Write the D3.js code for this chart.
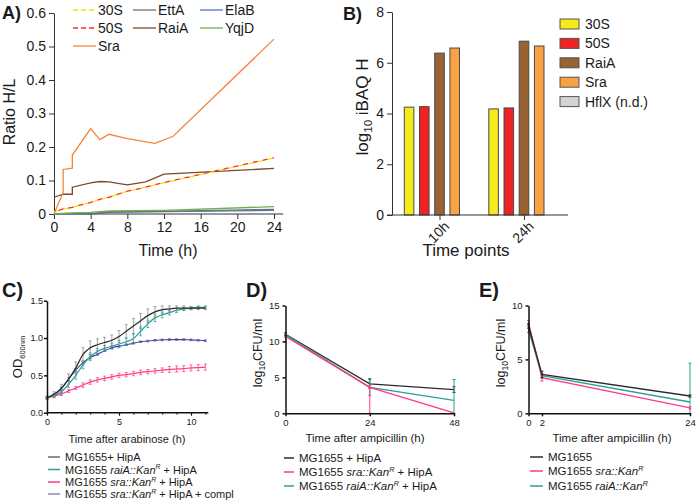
<!DOCTYPE html>
<html>
<head>
<meta charset="utf-8">
<script src="https://cdn.jsdelivr.net/npm/d3@7"></script>
<style>
  body { margin: 0; background: #fff; }
  svg { display: block; }
  text { font-family: "Liberation Sans", Arial, Helvetica, sans-serif; fill: #1a1a1a; }
</style>
</head>
<body>
<svg id="fig" width="697" height="501"></svg>
<script>
// ---------- data: panel A (ratio H/L over time) ----------
const namesA = ['30S', '50S', 'Sra', 'EttA', 'RaiA', 'ElaB', 'YqjD'];
const colorsA = ['#f2e600', '#ff2a2a', '#f6843a', '#6e6e6e', '#7a4a2c', '#4f78c8', '#6ab04c'];
const dashedA = [true, true, false, false, false, false, false];
const s30A = [[0, 0.006], [1, 0.014], [2, 0.02], [4, 0.035], [5, 0.043], [6, 0.05], [8, 0.068], [10, 0.08], [12, 0.093], [24, 0.167]];
const s50A = [[0, 0.007], [1, 0.015], [2, 0.02], [4, 0.035], [5, 0.044], [6, 0.05], [8, 0.068], [10, 0.08], [12, 0.094], [24, 0.168]];
const sraA = [[0, 0], [1, 0.065], [1, 0.133], [2, 0.137], [2, 0.176], [4, 0.255], [5, 0.222], [6, 0.238], [8, 0.225], [11, 0.211], [13, 0.232], [24, 0.522]];
const ettA = [[0, 0], [2, 0.002], [4, 0.001], [6, 0.006], [8, 0.007], [12, 0.008], [24, 0.014]];
const raiA = [[0, 0.05], [1, 0.059], [2, 0.059], [2, 0.08], [4, 0.093], [5, 0.097], [6, 0.096], [8, 0.087], [10, 0.096], [12, 0.119], [24, 0.136]];
const elaA = [[0, 0], [4, 0], [6, 0.005], [12, 0.007], [24, 0.011]];
const yqjA = [[0, 0], [2, 0.003], [4, 0.005], [6, 0.009], [12, 0.011], [24, 0.022]];
const seriesA = [s30A, s50A, sraA, ettA, raiA, elaA, yqjA];
const xTicksA = [0, 4, 8, 12, 16, 20, 24];
const yTicksA = [0, 0.1, 0.2, 0.3, 0.4, 0.5, 0.6];

// ---------- data: panel B (log10 iBAQ H) ----------
const groupsB = ['10h', '24h'];
const namesB = ['30S', '50S', 'RaiA', 'Sra', 'HflX (n.d.)'];
const colorsB = ['#f4ea1c', '#ee2424', '#9a6132', '#f9a243', '#d4d4d4'];
const vals10hB = [4.25, 4.27, 6.38, 6.58, null];
const vals24hB = [4.18, 4.22, 6.85, 6.66, null];
const yTicksB = [0, 2, 4, 6, 8];

// ---------- data: panel C (growth after arabinose) ----------
const tC = [0, 0.5, 1, 1.5, 2, 2.5, 3, 3.5, 4, 4.5, 5, 5.5, 6, 6.5, 7, 7.5, 8, 8.5, 9, 9.5, 10, 10.5, 11];
const wtC = [0.20, 0.25, 0.33, 0.45, 0.60, 0.78, 0.87, 0.91, 0.94, 0.97, 1.02, 1.09, 1.16, 1.23, 1.30, 1.35, 1.38, 1.39, 1.40, 1.40, 1.40, 1.40, 1.40];
const raiC = [0.20, 0.23, 0.28, 0.38, 0.50, 0.64, 0.75, 0.82, 0.86, 0.89, 0.92, 0.95, 0.99, 1.09, 1.19, 1.27, 1.31, 1.34, 1.37, 1.39, 1.40, 1.41, 1.41];
const sraC = [0.20, 0.22, 0.25, 0.29, 0.33, 0.37, 0.41, 0.44, 0.46, 0.48, 0.50, 0.51, 0.525, 0.54, 0.55, 0.56, 0.57, 0.58, 0.585, 0.59, 0.60, 0.605, 0.61];
const complC = [0.20, 0.24, 0.32, 0.45, 0.57, 0.67, 0.74, 0.78, 0.83, 0.87, 0.89, 0.91, 0.93, 0.95, 0.96, 0.97, 0.975, 0.98, 0.98, 0.98, 0.975, 0.97, 0.965];
const wtErrC = [0.02, 0.03, 0.05, 0.07, 0.08, 0.09, 0.09, 0.08, 0.07, 0.07, 0.08, 0.09, 0.10, 0.10, 0.09, 0.07, 0.05, 0.04, 0.03, 0.03, 0.02, 0.02, 0.02];
const raiErrC = [0.02, 0.02, 0.03, 0.04, 0.05, 0.05, 0.05, 0.04, 0.04, 0.04, 0.05, 0.05, 0.06, 0.06, 0.05, 0.05, 0.04, 0.03, 0.03, 0.02, 0.02, 0.02, 0.02];
const sraErrC = [0.01, 0.02, 0.02, 0.02, 0.02, 0.03, 0.03, 0.03, 0.03, 0.03, 0.03, 0.03, 0.03, 0.03, 0.03, 0.03, 0.03, 0.04, 0.04, 0.04, 0.04, 0.04, 0.04];
const complErrC = [0.01, 0.01, 0.02, 0.02, 0.02, 0.02, 0.02, 0.01, 0.01, 0.01, 0.01, 0.01, 0.01, 0.01, 0.01, 0.01, 0.01, 0.01, 0.01, 0.01, 0.01, 0.01, 0.01];

// ---------- data: panel D (survival, HipA) ----------
const tD = [0, 24, 48];
const wtD = [11.0, 4.1, 3.3], wtLoD = [0.2, 0.6, 0.4], wtHiD = [0.2, 0.7, 0.4];
const sraD = [10.7, 3.6, 0.05], sraLoD = [0.8, 3.6, 0], sraHiD = [0.3, 0.3, 0];
const raiD = [10.9, 3.6, 1.8], raiLoD = [0.3, 1.1, 1.8], raiHiD = [0.3, 1.1, 2.9];

// ---------- data: panel E (survival) ----------
const tE = [0, 2, 24];
const wtE = [8.1, 3.6, 1.6], wtLoE = [0.2, 0.3, 0.1], wtHiE = [0.2, 0.3, 0.1];
const sraE = [8.4, 3.3, 0.5], sraLoE = [0.2, 0.3, 0.1], sraHiE = [0.2, 0.2, 0.1];
const raiE = [7.8, 3.5, 1.05], raiLoE = [0.3, 0.2, 1.05], raiHiE = [0.3, 0.2, 3.6];

const colWT = '#2b2b2b', colRai = '#2aa197', colSra = '#ff3b84', colCompl = '#5b3f9e';

// legend labels as rich-text pieces
const legendC = [
  [{ t: 'MG1655+ HipA' }],
  [{ t: 'MG1655 ' }, { t: 'raiA::Kan', i: 1 }, { t: 'R', i: 1, sup: 1 }, { t: ' + HipA' }],
  [{ t: 'MG1655 ' }, { t: 'sra::Kan', i: 1 }, { t: 'R', i: 1, sup: 1 }, { t: ' + HipA' }],
  [{ t: 'MG1655 ' }, { t: 'sra::Kan', i: 1 }, { t: 'R', i: 1, sup: 1 }, { t: ' + HipA + compl' }]
];
const legendColorsC = ['#6a6a6a', colRai, colSra, '#9a86c8'];
const legendD = [
  [{ t: 'MG1655 + HipA' }],
  [{ t: 'MG1655 ' }, { t: 'sra::Kan', i: 1 }, { t: 'R', i: 1, sup: 1 }, { t: ' + HipA' }],
  [{ t: 'MG1655 ' }, { t: 'raiA::Kan', i: 1 }, { t: 'R', i: 1, sup: 1 }, { t: ' + HipA' }]
];
const legendE = [
  [{ t: 'MG1655' }],
  [{ t: 'MG1655 ' }, { t: 'sra::Kan', i: 1 }, { t: 'R', i: 1, sup: 1 }],
  [{ t: 'MG1655 ' }, { t: 'raiA::Kan', i: 1 }, { t: 'R', i: 1, sup: 1 }]
];
const legendColorsDE = [colWT, colSra, colRai];

const svg = d3.select('#fig');

drawPanelA();
drawPanelB();
drawPanelC();
drawSurvival('D', tD, [0, 48], [285.5, 454], [0, 15], [0, 5, 10, 15],
  [[wtD, wtLoD, wtHiD, colWT], [raiD, raiLoD, raiHiD, colRai], [sraD, sraLoD, sraHiD, colSra]],
  { letterX: 246, labelX: 262, legend: legendD, legX: 284, legW: 10, legRows: [458, 472, 486], xLabelX: 365 });
drawSurvival('E', tE, [0, 24], [528.5, 690], [0, 10], [0, 5, 10],
  [[raiE, raiLoE, raiHiE, colRai], [sraE, sraLoE, sraHiE, colSra], [wtE, wtLoE, wtHiE, colWT]],
  { letterX: 479, labelX: 505, legend: legendE, legX: 530, legW: 13, legRows: [457, 471, 486], xLabelX: 612 });

function styleAxis(g, size, color, width) {
  g.selectAll('path, line').attr('stroke', color).attr('stroke-width', width);
  g.selectAll('text').attr('font-size', size).attr('fill', '#1a1a1a')
    .style('font-family', '"Liberation Sans", Arial, sans-serif');
}

function letter(x, y, txt, size) {
  svg.append('text').attr('x', x).attr('y', y).attr('font-size', size)
    .attr('font-weight', 'bold').text(txt);
}

function richText(sel, parts, size) {
  parts.forEach(p => {
    let ts = sel.append('tspan').text(p.t);
    if (p.i) ts.attr('font-style', 'italic');
    if (p.sup) ts.attr('font-size', size * 0.62).attr('dy', -size * 0.38);
    else if (p.after) ts.attr('dy', size * 0.38);
  });
}

function withSupReset(parts) {
  // make text after a superscript drop back to baseline
  return parts.map((p, i) => (i > 0 && parts[i - 1].sup) ? Object.assign({}, p, { after: 1 }) : p);
}

function logLabel(x, y, size, tail) {
  let t = svg.append('text').attr('transform', `translate(${x},${y}) rotate(-90)`)
    .attr('text-anchor', 'middle').attr('font-size', size);
  t.append('tspan').text('log');
  t.append('tspan').text('10').attr('font-size', size * 0.68).attr('dy', size * 0.25);
  t.append('tspan').text(tail).attr('dy', -size * 0.25);
}

function drawPanelA() {
  let x = d3.scaleLinear().domain([0, 24]).range([54, 274]);
  let y = d3.scaleLinear().domain([0, 0.6]).range([214, 13]);
  let g = svg.append('g');

  g.append('g').attr('transform', `translate(0,${y(0)})`)
    .call(d3.axisBottom(x).tickValues(xTicksA).tickSize(5).tickSizeOuter(0))
    .call(a => a.select('.domain').remove())
    .call(a => styleAxis(a, 14, '#333', 1));
  g.append('line').attr('x1', x(0)).attr('x2', x(25)).attr('y1', y(0)).attr('y2', y(0))
    .attr('stroke', '#333');
  g.append('g').attr('transform', `translate(${x(0)},0)`)
    .call(d3.axisLeft(y).tickValues(yTicksA).tickSize(5).tickSizeOuter(0)
      .tickFormat(d => d === 0 ? '0' : d3.format('.1f')(d)))
    .call(a => styleAxis(a, 14, '#333', 1));

  let line = d3.line().x(d => x(d[0])).y(d => y(d[1]));
  let order = [5, 3, 6, 4, 0, 1, 2];
  order.forEach(i => {
    let p = g.append('path').datum(seriesA[i]).attr('d', line)
      .attr('fill', 'none').attr('stroke', colorsA[i]).attr('stroke-width', 1.3);
    if (dashedA[i]) {
      p.attr('stroke-dasharray', '5,5');
      if (i === 1) p.attr('stroke-dashoffset', 5);
    }
  });

  // legend
  let cols = [73, 133, 200], rows = [10, 28, 46];
  let slots = [[0, 0], [0, 1], [0, 2], [1, 0], [1, 1], [2, 0], [2, 1]];
  namesA.forEach((n, i) => {
    let lx = cols[slots[i][0]], ly = rows[slots[i][1]];
    let l = g.append('line').attr('x1', lx).attr('x2', lx + 23).attr('y1', ly).attr('y2', ly)
      .attr('stroke', colorsA[i]).attr('stroke-width', 1.3);
    if (dashedA[i]) l.attr('stroke-dasharray', '5,3');
    g.append('text').attr('x', lx + 25).attr('y', ly + 5).attr('font-size', 14).text(n);
  });

  letter(2, 19, 'A)', 18);
  g.append('text').attr('transform', 'translate(15,112) rotate(-90)')
    .attr('text-anchor', 'middle').attr('font-size', 16).text('Ratio H/L');
  g.append('text').attr('x', 168).attr('y', 256).attr('text-anchor', 'middle')
    .attr('font-size', 16).text('Time (h)');
}

function drawPanelB() {
  let y = d3.scaleLinear().domain([0, 8]).range([215, 12]);
  let xg = d3.scalePoint().domain(groupsB).range([439.5, 524]);
  let xi = d3.scaleBand().domain(namesB).range([-35.2, 35.2]).paddingInner(0.37);
  let g = svg.append('g');

  let rows = groupsB.map((grp, gi) => namesB.map((n, i) => ({
    grp, n, i, v: (gi === 0 ? vals10hB : vals24hB)[i]
  }))).flat().filter(d => d.v != null);

  g.selectAll('rect.bar').data(rows).enter().append('rect')
    .attr('class', 'bar')
    .attr('x', d => xg(d.grp) + xi(d.n))
    .attr('y', d => y(d.v))
    .attr('width', xi.bandwidth())
    .attr('height', d => y(0) - y(d.v))
    .attr('fill', d => colorsB[d.i])
    .attr('stroke', '#4a4a4a').attr('stroke-width', 1);

  g.append('g').attr('transform', `translate(392,0)`)
    .call(d3.axisLeft(y).tickValues(yTicksB).tickSize(5).tickSizeOuter(0))
    .call(a => styleAxis(a, 14, '#333', 1));
  g.append('line').attr('x1', 387).attr('x2', 568).attr('y1', y(0)).attr('y2', y(0))
    .attr('stroke', '#333');
  let xa = g.append('g').attr('transform', `translate(0,${y(0)})`)
    .call(d3.axisBottom(xg).tickSize(5).tickSizeOuter(0))
    .call(a => a.select('.domain').remove())
    .call(a => styleAxis(a, 14, '#333', 1));
  xa.selectAll('.tick text').attr('text-anchor', 'end').attr('dy', null)
    .attr('transform', 'translate(3,5) rotate(-45)').attr('y', 0).attr('x', 0)
    .attr('dominant-baseline', 'hanging');

  // legend
  namesB.forEach((n, i) => {
    let cy = 24 + i * 19.4;
    g.append('rect').attr('x', 560).attr('y', cy - 5).attr('width', 19).attr('height', 10)
      .attr('fill', colorsB[i]).attr('stroke', '#555').attr('stroke-width', 1);
    g.append('text').attr('x', 585).attr('y', cy + 5).attr('font-size', 14).text(n);
  });

  letter(343, 20, 'B)', 18);
  logLabel(368, 107, 17, ' iBAQ H');
  g.append('text').attr('x', 466).attr('y', 256).attr('text-anchor', 'middle')
    .attr('font-size', 17).text('Time points');
}

function errorBars(g, x, y, ts, vals, lo, hi, color, cap, op) {
  let d = ts.map((t, i) => ({ t, v: vals[i], lo: Math.max(y.domain()[0], vals[i] - lo[i]), hi: vals[i] + hi[i] }));
  d.forEach(e => {
    if (e.hi - e.lo <= 0) return;
    g.append('line').attr('x1', x(e.t)).attr('x2', x(e.t)).attr('y1', y(e.lo)).attr('y2', y(e.hi))
      .attr('stroke', color).attr('stroke-width', 1).attr('opacity', op);
    [e.lo, e.hi].forEach(v => {
      g.append('line').attr('x1', x(e.t) - cap).attr('x2', x(e.t) + cap).attr('y1', y(v)).attr('y2', y(v))
        .attr('stroke', color).attr('stroke-width', 1).attr('opacity', op);
    });
  });
}

function drawLegend(g, items, colors, lx, lw, rows, size) {
  items.forEach((parts, i) => {
    g.append('line').attr('x1', lx).attr('x2', lx + lw).attr('y1', rows[i]).attr('y2', rows[i])
      .attr('stroke', colors[i]).attr('stroke-width', 1.5);
    let t = g.append('text').attr('x', lx + lw + 5).attr('y', rows[i] + 4).attr('font-size', size);
    richText(t, withSupReset(parts), size);
  });
}

function drawPanelC() {
  let x = d3.scaleLinear().domain([0, 10]).range([47, 191]);
  let y = d3.scaleLinear().domain([0, 1.5]).range([412.7, 300.7]);
  let g = svg.append('g');

  let line = d3.line().x((d, i) => x(tC[i])).y(d => y(d)).curve(d3.curveMonotoneX);
  let sets = [[sraC, sraErrC, colSra], [complC, complErrC, colCompl], [raiC, raiErrC, colRai], [wtC, wtErrC, colWT]];
  sets.forEach(([v, e, c]) => {
    errorBars(g, x, y, tC, v, e, e, c === colWT ? '#8a8a8a' : c, 1.5, 0.75);
    g.append('path').datum(v).attr('d', line).attr('fill', 'none')
      .attr('stroke', c).attr('stroke-width', 1.2);
  });

  g.append('g').attr('transform', `translate(0,${y(0)})`)
    .call(d3.axisBottom(x).tickValues([0, 5, 10]).tickSize(3).tickSizeOuter(0))
    .call(a => a.select('.domain').remove())
    .call(a => styleAxis(a, 9, '#111', 1.2));
  g.append('g').attr('transform', `translate(0,${y(0)})`)
    .call(d3.axisBottom(x).tickValues(d3.range(0, 12)).tickSize(2).tickFormat(''))
    .call(a => a.select('.domain').remove())
    .call(a => styleAxis(a, 9, '#111', 1));
  g.append('line').attr('x1', x(0)).attr('x2', x(11.2)).attr('y1', y(0)).attr('y2', y(0))
    .attr('stroke', '#111').attr('stroke-width', 1.5);
  g.append('g').attr('transform', `translate(${x(0)},0)`)
    .call(d3.axisLeft(y).tickValues([0, 0.5, 1, 1.5]).tickSize(3).tickPadding(1).tickSizeOuter(0)
      .tickFormat(d3.format('.1f')))
    .call(a => styleAxis(a, 9, '#111', 1.5));

  letter(2, 297, 'C)', 20);
  let t = g.append('text').attr('transform', 'translate(22,357) rotate(-90)')
    .attr('text-anchor', 'middle').attr('font-size', 13);
  t.append('tspan').text('OD');
  t.append('tspan').text('600nm').attr('font-size', 7.5).attr('dy', 3);
  g.append('text').attr('x', 127).attr('y', 443).attr('text-anchor', 'middle')
    .attr('font-size', 11).text('Time after arabinose (h)');

  drawLegend(g, legendC, legendColorsC, 48, 12, [457, 469.5, 482, 494], 11);
}

function drawSurvival(tag, ts, xDom, xRange, yDom, yTicks, sets, o) {
  let x = d3.scaleLinear().domain(xDom).range(xRange);
  let y = d3.scaleLinear().domain(yDom).range([413.3, 305.5]);
  let g = svg.append('g');

  let line = d3.line().x((d, i) => x(ts[i])).y(d => y(d));
  sets.forEach(([v, lo, hi, c]) => {
    errorBars(g, x, y, ts, v, lo, hi, c, 1.5, 1);
    g.append('path').datum(v).attr('d', line).attr('fill', 'none')
      .attr('stroke', c).attr('stroke-width', 1.4);
  });

  g.append('g').attr('transform', `translate(0,${y(0)})`)
    .call(d3.axisBottom(x).tickValues(ts).tickSize(3).tickSizeOuter(0))
    .call(a => styleAxis(a, 9.5, '#111', 1.5));
  g.append('g').attr('transform', `translate(${x(0)},0)`)
    .call(d3.axisLeft(y).tickValues(yTicks).tickSize(3).tickSizeOuter(0))
    .call(a => styleAxis(a, 9.5, '#111', 1.5));

  letter(o.letterX, 297, tag + ')', 20);
  logLabel(o.labelX, 353, 12.5, 'CFU/ml');
  g.append('text').attr('x', o.xLabelX).attr('y', 442).attr('text-anchor', 'middle')
    .attr('font-size', 11.5).text('Time after ampicillin (h)');

  drawLegend(g, o.legend, legendColorsDE, o.legX, o.legW, o.legRows, 11.5);
}
</script>
</body>
</html>
